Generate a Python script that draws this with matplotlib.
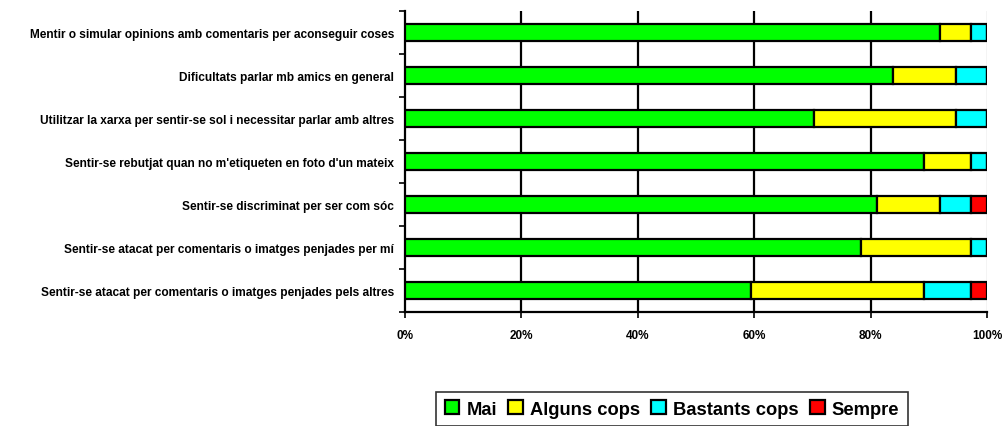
import matplotlib.pyplot as plt
import numpy as np

# categories listed bottom to top
categories = [
    "Sentir-se atacat per comentaris o imatges penjades pels altres",
    "Sentir-se atacat per comentaris o imatges penjades per mí",
    "Sentir-se discriminat per ser com sóc",
    "Sentir-se rebutjat quan no m'etiqueten en foto d'un mateix",
    "Utilitzar la xarxa per sentir-se sol i necessitar parlar amb altres",
    "Dificultats parlar mb amics en general",
    "Mentir o simular opinions amb comentaris per aconseguir coses",
]
series_names = ["Mai", "Alguns cops", "Bastants cops", "Sempre"]
mai = [59.5, 78.4, 81.1, 89.2, 70.3, 83.8, 91.9]
alguns = [29.7, 18.9, 10.8, 8.1, 24.3, 10.8, 5.4]
bastants = [8.1, 2.7, 5.4, 2.7, 5.4, 5.4, 2.7]
sempre = [2.7, 0.0, 2.7, 0.0, 0.0, 0.0, 0.0]
colors = ["#00ff00", "#ffff00", "#00ffff", "#ff0000"]

plt.rcParams['font.family'] = ['Liberation Sans', 'DejaVu Sans']
plt.rcParams['font.weight'] = 'bold'

fig = plt.figure(figsize=(10.04, 4.27), dpi=100)
ax = fig.add_axes([405 / 1004, 1 - 313 / 427, 582 / 1004, 301 / 427])

y = np.arange(len(categories))
left = np.zeros(len(categories))
for name, vals, c in zip(series_names, [mai, alguns, bastants, sempre], colors):
    vals = np.array(vals)
    ax.barh(y, vals, left=left, height=0.38, color=c, edgecolor='black',
            linewidth=1.6, label=name, zorder=3)
    left += vals

ax.set_xlim(0, 100)
ax.set_ylim(-0.5, len(categories) - 0.5)
ax.set_xticks(np.arange(0, 101, 20))
ax.set_xticklabels([f"{v}%" for v in range(0, 101, 20)], fontsize=8.5, fontweight='bold')
ax.set_yticks(y)
ax.set_yticklabels(categories, fontsize=8.6, fontweight='bold')
ax.tick_params(axis='y', length=0, pad=8)
ax.set_yticks(np.arange(-0.5, len(categories), 1), minor=True)
ax.tick_params(axis='y', which='minor', length=4, width=1.2, direction='out')
ax.tick_params(axis='x', length=4, width=1.2, direction='out', pad=8)

for v in [20, 40, 60, 80]:
    ax.axvline(v, color='black', linewidth=1.6, zorder=1)
ax.axvline(100, color='#c8c8c8', linewidth=1.0, zorder=1)

ax.spines['top'].set_visible(False)
ax.spines['right'].set_visible(False)
ax.spines['left'].set_linewidth(1.6)
ax.spines['bottom'].set_linewidth(1.6)

leg = fig.legend(loc='center', bbox_to_anchor=(672 / 1004, 1 - 410 / 427), ncol=4,
                 frameon=True, fancybox=False, edgecolor='black',
                 prop={'size': 13.2, 'weight': 'bold'}, handlelength=0.8,
                 handleheight=0.8, handletextpad=0.4, columnspacing=0.6,
                 borderpad=0.45)
leg.get_frame().set_linewidth(1.2)

fig.savefig("out.png", dpi=100)
